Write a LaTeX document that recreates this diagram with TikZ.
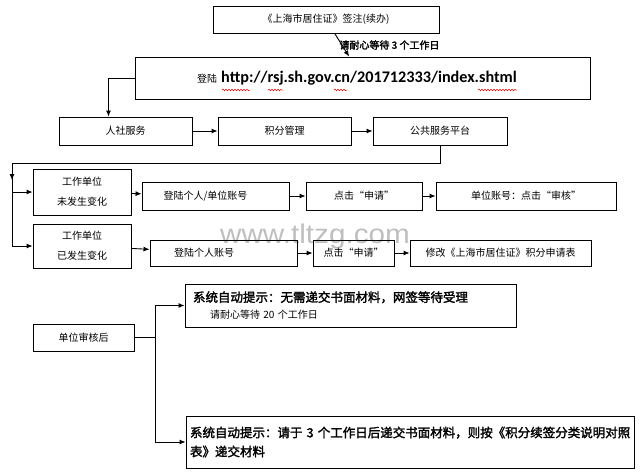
\documentclass[tikz,border=0pt]{standalone}
\usepackage{fontspec}
\setmainfont{Noto Sans CJK SC}[AutoFakeBold=2]
\newfontfamily\urlfont{Carlito}
\newfontfamily\wmfont{Liberation Sans}
\usetikzlibrary{arrows.meta, decorations.pathmorphing}
\newcommand{\wz}{\fontsize{10}{20}\selectfont}
\newcommand{\dz}{\bfseries\fontsize{12.5}{19}\selectfont}
\tikzstyle{kuang}=[draw, line width=0.9pt, inner sep=2pt, font=\wz, align=center]
\tikzstyle{jt}=[-{Latex[length=6pt,width=5pt]}, line width=0.9pt]
\tikzstyle{bolang}=[red, line width=0.5pt, decorate, decoration={snake, amplitude=0.8pt, segment length=3pt}]

\begin{document}
\begin{tikzpicture}[x=1pt, y=-1pt, line width=0.9pt]
  \useasboundingbox (0,0) rectangle (640,474);
  \node[font=\wmfont\fontsize{27}{30}\selectfont, text=black!25, anchor=base, xscale=1.1] (wm) at (315,243) {www.tltzg.com};
  \node[kuang, minimum width=226pt, minimum height=27pt] (qz) at (326,19.5) {《上海市居住证》签注(续办)};
  \node[font=\bfseries\fontsize{10}{12}\selectfont, anchor=west, inner sep=0pt] (dd) at (339,45) {请耐心等待 3 个工作日};
  \node[kuang, minimum width=455pt, minimum height=42pt] (dl) at (362.5,78)
    {登陆\hspace{4pt}{\urlfont\bfseries\fontsize{16.2}{18}\selectfont http://rsj.sh.gov.cn/201712333/index.shtml}\hspace*{11pt}};
  \node[kuang, minimum width=133pt, minimum height=28pt] (rs) at (125.5,131) {人社服务};
  \node[kuang, minimum width=133pt, minimum height=28pt] (jf) at (284.5,131) {积分管理};
  \node[kuang, minimum width=134pt, minimum height=28pt] (gg) at (440,131) {公共服务平台};
  \node[kuang, minimum width=98pt, minimum height=46pt] (wb1) at (82,192) {工作单位\\未发生变化};
  \node[kuang, minimum width=98pt, minimum height=44pt] (wb2) at (82,246) {工作单位\\已发生变化};
  \node[kuang, minimum width=147pt, minimum height=28pt] (dg1) at (215.5,196) {登陆个人/单位账号\hspace*{20pt}};
  \node[kuang, minimum width=116pt, minimum height=28pt] (dj1) at (364,196) {点击“申请”};
  \node[kuang, minimum width=180pt, minimum height=28pt] (sh) at (526,196) {单位账号：点击“审核”};
  \node[kuang, minimum width=147pt, minimum height=26pt] (dg2) at (223.5,253) {登陆个人账号\hspace*{39pt}};
  \node[kuang, minimum width=81pt, minimum height=26pt] (dj2) at (353.5,253) {点击“申请”};
  \node[kuang, minimum width=181pt, minimum height=26pt] (xg) at (500.5,253) {修改《上海市居住证》积分申请表};
  \node[kuang, minimum width=101pt, minimum height=27pt] (sj) at (83.5,337.5) {单位审核后};
  \node[kuang, align=left, text width=315pt, inner xsep=8pt, minimum height=43pt] (ts1) at (350.5,305.5)
    {{\dz 系统自动提示：无需递交书面材料，网签等待受理}\\[-3pt]\hspace*{17pt}请耐心等待~20~个工作日};
  \node[kuang, align=left, text width=440pt, inner xsep=4pt, minimum height=52pt, font=\dz] (ts2) at (410,442)
    {系统自动提示：请于~3~个工作日后递交书面材料，则按《积分续签分类说明对照\\表》递交材料};

  \foreach \a/\b in {222/250, 268/283, 334/347, 478/517}
    \draw[bolang] (\a,90) -- (\b,90);

  \draw[jt] (qz) -- (dl);
  \draw[jt] (dl.west) -| ([xshift=-17pt]rs.north);
  \draw[jt] (rs) -- (jf);
  \draw[jt] (jf) -- (gg);
  \coordinate (zj) at (12,163);
  \draw[jt] (gg.south) |- (zj) -- ++(0,17);
  \draw (zj) -- (zj |- wb2);
  \draw[jt] (zj |- wb1) -- (wb1);
  \draw[jt] (zj |- wb2) -- (wb2);
  \draw[jt] (wb1) -- (dg1);
  \draw[jt] (dg1) -- (dj1);
  \draw[jt] (dj1) -- (sh);
  \draw[jt] (wb2) -- (dg2);
  \draw[jt] (dg2) -- (dj2);
  \draw[jt] (dj2) -- (xg);
  \draw[jt] (sj.east) -- ++(21,0) |- (ts1.west);
  \draw[jt] (sj.east) -- ++(21,0) |- (ts2.west);
\end{tikzpicture}
\end{document}
